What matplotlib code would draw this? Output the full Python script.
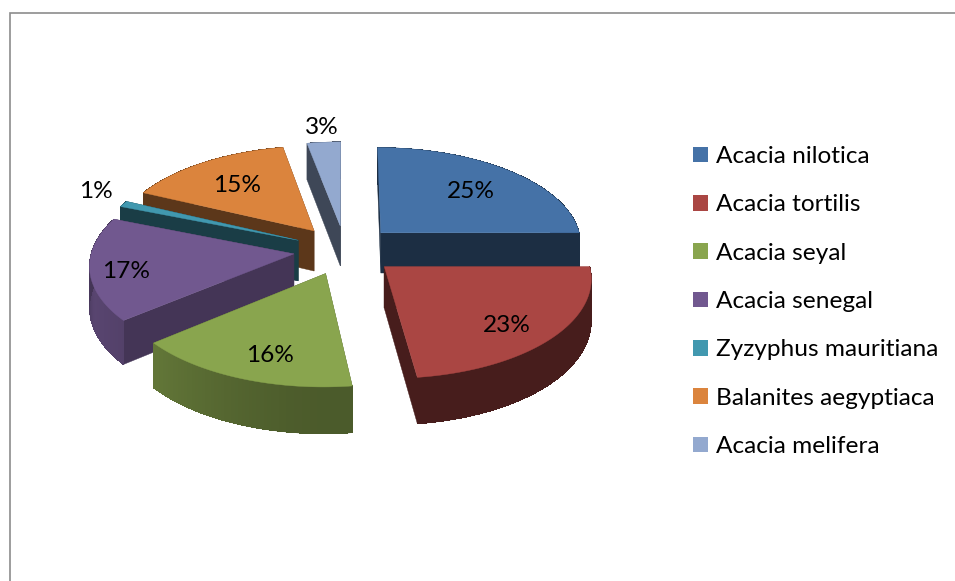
import numpy as np
import matplotlib
matplotlib.use("Agg")
import matplotlib.pyplot as plt
from matplotlib.patches import Polygon, Patch

# --- dados ---
especies = ["Acacia nilotica", "Acacia tortilis", "Acacia seyal", "Acacia senegal",
            "Zyzyphus mauritiana", "Balanites aegyptiaca", "Acacia melifera"]
valores = [25, 23, 16, 17, 1, 15, 3]
rotulos = ["25%", "23%", "16%", "17%", "1%", "15%", "3%"]

# --- estilo ---
cores = ["#4572A7", "#AA4643", "#89A54E", "#71588F", "#4198AF", "#DB843D", "#93A9CF"]
sombra_corte = [0.40, 0.42, 0.55, 0.60, 0.40, 0.42, 0.42]
pos_rotulos = [(471, 191), (507, 325), (270, 355), (126, 271), (96, 192), (237, 185), (322, 127)]
ordem = [6, 0, 5, 4, 3, 1, 2]  # de tras para frente

plt.rcParams["font.family"] = ["Lato", "DejaVu Sans"]

CX, CY = 345, 250
RX, RY = 202, 97
K = 0.10         # perspectiva
EXPLODE = 0.255
ALTURA = 41


def projeta(px, pz):
    s = 1 / (1 + K * pz)
    return CX + RX * px * s, CY - RY * pz * s, s


def escurece(cor, f):
    return tuple(c * f for c in matplotlib.colors.to_rgb(cor))


def sombra_borda(theta, base):
    # mais claro a esquerda na frente, escuro a direita e atras
    frente = min(1.0, max(0.0, -np.cos(theta) * 3))
    return base + (0.8 - base) * max(0.0, -np.sin(theta)) ** 1.5 * frente


fig = plt.figure(figsize=(9.55, 5.81), dpi=100)
ax = fig.add_axes([0, 0, 1, 1])
ax.set_xlim(0, 955)
ax.set_ylim(581, 0)
ax.axis("off")

# moldura (so topo e esquerda aparecem no recorte)
ax.plot([9.5, 9.5, 955], [581, 13, 13], color="#8c8c8c", lw=1.2, solid_joinstyle="miter")

fracoes = np.array(valores, dtype=float) / sum(valores)
fim = np.cumsum(fracoes) * 2 * np.pi
ini = fim - fracoes * 2 * np.pi

for i in ordem:
    t0, t1 = ini[i], fim[i]
    meio = (t0 + t1) / 2
    ox, oz = EXPLODE * np.sin(meio), EXPLODE * np.cos(meio)
    tt = np.linspace(t0, t1, max(int((t1 - t0) * 60), 4))

    ax_, ay_, as_ = projeta(ox, oz)
    xs, ys, ss = projeta(ox + np.sin(tt), oz + np.cos(tt))
    cor = cores[i]

    # paredes do corte
    escura = escurece(cor, sombra_corte[i])
    for j in (0, -1):
        pts = [(ax_, ay_), (xs[j], ys[j]), (xs[j], ys[j] + ALTURA * ss[j]), (ax_, ay_ + ALTURA * as_)]
        ax.add_patch(Polygon(pts, closed=True, fc=escura, ec=escura, lw=0.3, zorder=2))

    # borda externa: base suavizada e faixas sem antialias por cima
    base = list(zip(xs, ys)) + list(zip(xs[::-1], (ys + ALTURA * ss)[::-1]))
    cor_base = escurece(cor, sombra_borda(meio, sombra_corte[i]))
    ax.add_patch(Polygon(base, closed=True, fc=cor_base, ec=cor_base, lw=0.3, zorder=2))
    for j in range(len(tt) - 1):
        pts = [(xs[j], ys[j]), (xs[j + 1], ys[j + 1]),
               (xs[j + 1], ys[j + 1] + ALTURA * ss[j + 1]), (xs[j], ys[j] + ALTURA * ss[j])]
        c = escurece(cor, sombra_borda((tt[j] + tt[j + 1]) / 2, sombra_corte[i]))
        ax.add_patch(Polygon(pts, closed=True, fc=c, ec="none", lw=0, antialiased=False, zorder=2))

    # topo
    topo = [(ax_, ay_)] + list(zip(xs, ys))
    ax.add_patch(Polygon(topo, closed=True, fc=cor, ec=cor, lw=0.3, zorder=2))

for txt, (x, y) in zip(rotulos, pos_rotulos):
    ax.text(x, y, txt, ha="center", va="center", fontsize=17.6, color="black", zorder=5)

handles = [Patch(fc=c, ec="none") for c in cores]
leg = ax.legend(handles, especies, loc="upper left", bbox_to_anchor=(693 / 955, 1 - 146 / 581),
                bbox_transform=ax.transAxes, frameon=False, fontsize=17.6, labelspacing=1.118,
                handlelength=0.61, handleheight=0.61, handletextpad=0.33,
                borderpad=0, borderaxespad=0)

fig.savefig("out.png", dpi=100, facecolor="white")
